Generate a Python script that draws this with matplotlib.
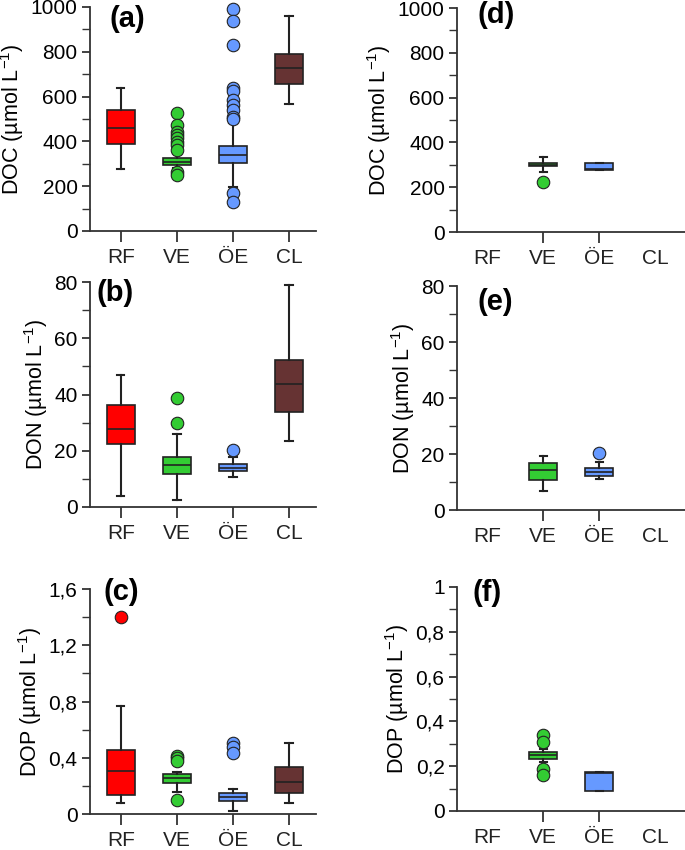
import matplotlib
matplotlib.use("Agg")
import matplotlib.pyplot as plt
from matplotlib.ticker import MultipleLocator, FuncFormatter

plt.rcParams['font.family'] = ['Liberation Sans', 'DejaVu Sans']
plt.rcParams['mathtext.fontset'] = 'custom'
plt.rcParams['mathtext.rm'] = 'Liberation Sans'
plt.rcParams['mathtext.it'] = 'Liberation Sans'
plt.rcParams['mathtext.default'] = 'regular'

categories = ["RF", "VE", "ÖE", "CL"]
colors = ["#ff0000", "#33cc33", "#6699ff", "#663333"]

# stats per category: q1, median, q3, whisker low, whisker high
# ---- (a) DOC, all sites
doc_a_q1 = [388, 295, 305, 655]
doc_a_med = [458, 309, 339, 728]
doc_a_q3 = [539, 326, 379, 792]
doc_a_lo = [275, 280, 198, 569]
doc_a_hi = [639, 350, 480, 960]
doc_a_fl = [[], [528, 473, 443, 428, 415, 398, 384, 362, 264, 250],
            [990, 939, 830, 638, 625, 584, 562, 539, 510, 498, 171, 128], []]

# ---- (b) DON, all sites
don_b_q1 = [22.3, 11.6, 12.8, 33.9]
don_b_med = [27.7, 15.0, 14.0, 43.8]
don_b_q3 = [36.4, 17.8, 15.4, 52.1]
don_b_lo = [4.0, 2.4, 10.7, 23.5]
don_b_hi = [46.9, 26.1, 17.8, 79.1]
don_b_fl = [[], [38.6, 29.9], [20.1], []]

# ---- (c) DOP, all sites
dop_c_q1 = [0.133, 0.222, 0.094, 0.147]
dop_c_med = [0.309, 0.256, 0.121, 0.230]
dop_c_q3 = [0.456, 0.288, 0.150, 0.333]
dop_c_lo = [0.081, 0.157, 0.021, 0.076]
dop_c_hi = [0.765, 0.300, 0.178, 0.508]
dop_c_fl = [[1.40], [0.415, 0.40, 0.378, 0.103], [0.508, 0.48, 0.437], []]

# ---- (d) DOC, second set (VE, ÖE only)
doc_d_q1 = [295, 277]
doc_d_med = [301, 280]
doc_d_q3 = [309, 306]
doc_d_lo = [269, 277]
doc_d_hi = [333, 306]
doc_d_fl = [[225], []]

# ---- (e) DON, second set
don_e_q1 = [10.7, 12.2]
don_e_med = [14.3, 13.7]
don_e_q3 = [16.9, 14.9]
don_e_lo = [6.7, 11.1]
don_e_hi = [19.4, 17.2]
don_e_fl = [[], [20.2]]

# ---- (f) DOP, second set
dop_f_q1 = [0.231, 0.091]
dop_f_med = [0.248, 0.168]
dop_f_q3 = [0.264, 0.175]
dop_f_lo = [0.220, 0.091]
dop_f_hi = [0.277, 0.175]
dop_f_fl = [[0.338, 0.309, 0.188, 0.160], []]

EDGE = "#222222"

fig = plt.figure(figsize=(6.85, 8.5), dpi=100)


def fmt(v, pos):
    return ("%g" % round(v, 6)).replace(".", ",")


def panel(rect, xlim, q1, med, q3, lo, hi, fl, idx, ylim, major, minor,
          ylabel, letter, lpos):
    ax = fig.add_axes(rect)
    stats = []
    for i in range(len(q1)):
        stats.append(dict(q1=q1[i], med=med[i], q3=q3[i], whislo=lo[i],
                          whishi=hi[i], fliers=fl[i]))
    pos = [i + 1 for i in idx]
    bp = ax.bxp(stats, positions=pos, widths=0.5, patch_artist=True,
                showfliers=True,
                boxprops=dict(edgecolor=EDGE, linewidth=1.2),
                medianprops=dict(color=EDGE, linewidth=1.2),
                whiskerprops=dict(color=EDGE, linewidth=1.5),
                capprops=dict(color=EDGE, linewidth=1.5),
                capwidths=0.13)
    for k, i in enumerate(idx):
        bp['boxes'][k].set_facecolor(colors[i])
        bp['fliers'][k].set(marker='o', markerfacecolor=colors[i],
                            markeredgecolor=EDGE, markeredgewidth=0.8,
                            markersize=9, clip_on=False)
    ax.set_xlim(*xlim)
    ax.set_ylim(*ylim)
    ax.set_xticks([1, 2, 3, 4])
    ax.set_xticklabels(categories)
    for t in range(4):
        if t not in idx:
            ax.xaxis.get_major_ticks()[t].tick1line.set_visible(False)
    ax.yaxis.set_major_locator(MultipleLocator(major))
    ax.yaxis.set_minor_locator(MultipleLocator(minor))
    ax.yaxis.set_major_formatter(FuncFormatter(fmt))
    for s in ["top", "right"]:
        ax.spines[s].set_visible(False)
    for s in ["left", "bottom"]:
        ax.spines[s].set_linewidth(1.3)
        ax.spines[s].set_color("#333333")
    ax.tick_params(axis='y', which='major', length=6, width=1.3,
                   colors="#333333", labelcolor="black", labelsize=15, pad=3)
    ax.tick_params(axis='y', which='minor', length=6, width=1.0,
                   colors="#333333")
    ax.tick_params(axis='x', which='major', length=8, width=1.3,
                   colors="#333333", labelcolor="#222222", labelsize=15,
                   pad=4)
    ax.set_ylabel(ylabel, fontsize=15.5, labelpad=3)
    ax.text(lpos[0], lpos[1], letter, transform=ax.transAxes,
            fontsize=21, fontweight='bold', ha='left', va='center')
    return ax


W = 685.0
H = 850.0


def rect(l, r, t, b):
    return [l / W, 1 - b / H, (r - l) / W, (b - t) / H]


lx = (0.45, 4.48)
rx = (0.46, 4.53)
ylab_doc = "DOC (µmol L$^{-1}$)"
ylab_don = "DON (µmol L$^{-1}$)"
ylab_dop = "DOP (µmol L$^{-1}$)"

panel(rect(90, 316, 7, 231), lx, doc_a_q1, doc_a_med, doc_a_q3, doc_a_lo,
      doc_a_hi, doc_a_fl, [0, 1, 2, 3], (0, 1000), 200, 100,
      ylab_doc, "(a)", (0.088, 0.945))
panel(rect(90, 316, 282, 507), lx, don_b_q1, don_b_med, don_b_q3, don_b_lo,
      don_b_hi, don_b_fl, [0, 1, 2, 3], (0, 80), 20, 10,
      ylab_don, "(b)", (0.03, 0.95))
panel(rect(90, 316, 589, 814), lx, dop_c_q1, dop_c_med, dop_c_q3, dop_c_lo,
      dop_c_hi, dop_c_fl, [0, 1, 2, 3], (0, 1.6), 0.4, 0.2,
      ylab_dop, "(c)", (0.058, 0.985))
panel(rect(457, 685, 8, 232), rx, doc_d_q1, doc_d_med, doc_d_q3, doc_d_lo,
      doc_d_hi, doc_d_fl, [1, 2], (0, 1000), 200, 100,
      ylab_doc, "(d)", (0.088, 0.968))
panel(rect(457, 685, 286, 510), rx, don_e_q1, don_e_med, don_e_q3, don_e_lo,
      don_e_hi, don_e_fl, [1, 2], (0, 80), 20, 10,
      ylab_don, "(e)", (0.092, 0.93))
panel(rect(457, 685, 587, 811), rx, dop_f_q1, dop_f_med, dop_f_q3, dop_f_lo,
      dop_f_hi, dop_f_fl, [1, 2], (0, 1.0), 0.2, 0.1,
      ylab_dop, "(f)", (0.07, 0.975))

fig.savefig("out.png", dpi=100)
